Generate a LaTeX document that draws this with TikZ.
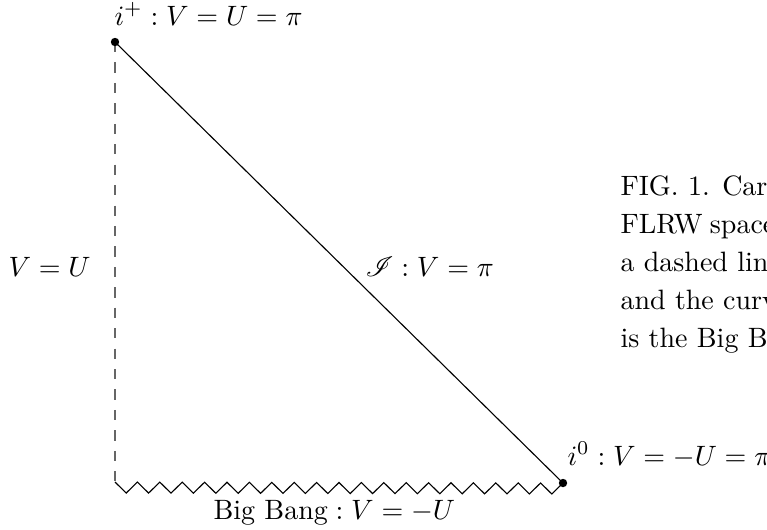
\documentclass[tikz,border=0pt]{standalone}
\usepackage{mathrsfs}
\usetikzlibrary{calc}
\begin{document}
\begin{tikzpicture}[x=0.35714pt,y=-0.35714pt,
  dot/.style={circle,fill=black,inner sep=0pt,minimum size=3.0pt},
  lbl/.style={inner sep=0pt,anchor=base west},
  conn/.style={line width=0.4pt},
  dashconn/.style={line width=0.45pt,draw=black!60,dash pattern=on 3.65pt off 3.65pt},
  captxt/.style={inner sep=0pt,anchor=base west,font=\fontsize{10}{12}\selectfont}]
\useasboundingbox (0,0) rectangle (767,529);
\clip (0,0) rectangle (767,529);
% corners
\coordinate (bl) at (115,482);
\coordinate (ipc) at (115,42);
\coordinate (i0c) at (563,483);
% connectors
\draw[conn] (ipc) -- (i0c);
\draw[dashconn] (ipc) -- (bl);
\draw[conn,line join=miter] (bl) foreach \k in {1,...,20} {
  -- ($(bl)!{(\k-0.5)/20}!(i0c)+(0,11)$) -- ($(bl)!{\k/20}!(i0c)$) };
% points
\node[dot] (ip) at (ipc) {};
\node[dot] (i0) at (i0c) {};
% labels
\node[lbl] (lip) at (114,25) {$i^+ : V = U = \pi$};
\node[lbl] (lvu) at (8,276) {$V = U$};
\node[lbl] (lscri) at (365,276) {$\mathscr{I} : V = \pi$};
\node[lbl] (li0) at (567,465) {$i^0 : V = -U = \pi$};
\node[lbl] (lbb) at (213,519) {$\mbox{Big Bang} : V = -U$};
% caption (cut off at the right edge, as in the reference)
\node[captxt] (c1) at (620,195) {FIG. 1. Carter--Penrose diagram};
\node[captxt] (c2) at (620,233) {FLRW\hspace{2.6pt}spacetime};
\node[captxt] (c3) at (620,271) {a dashed line};
\node[captxt] (c4) at (620,309) {and the curvy line};
\node[captxt] (c5) at (620,347) {is the Big Bang};
\end{tikzpicture}
\end{document}
